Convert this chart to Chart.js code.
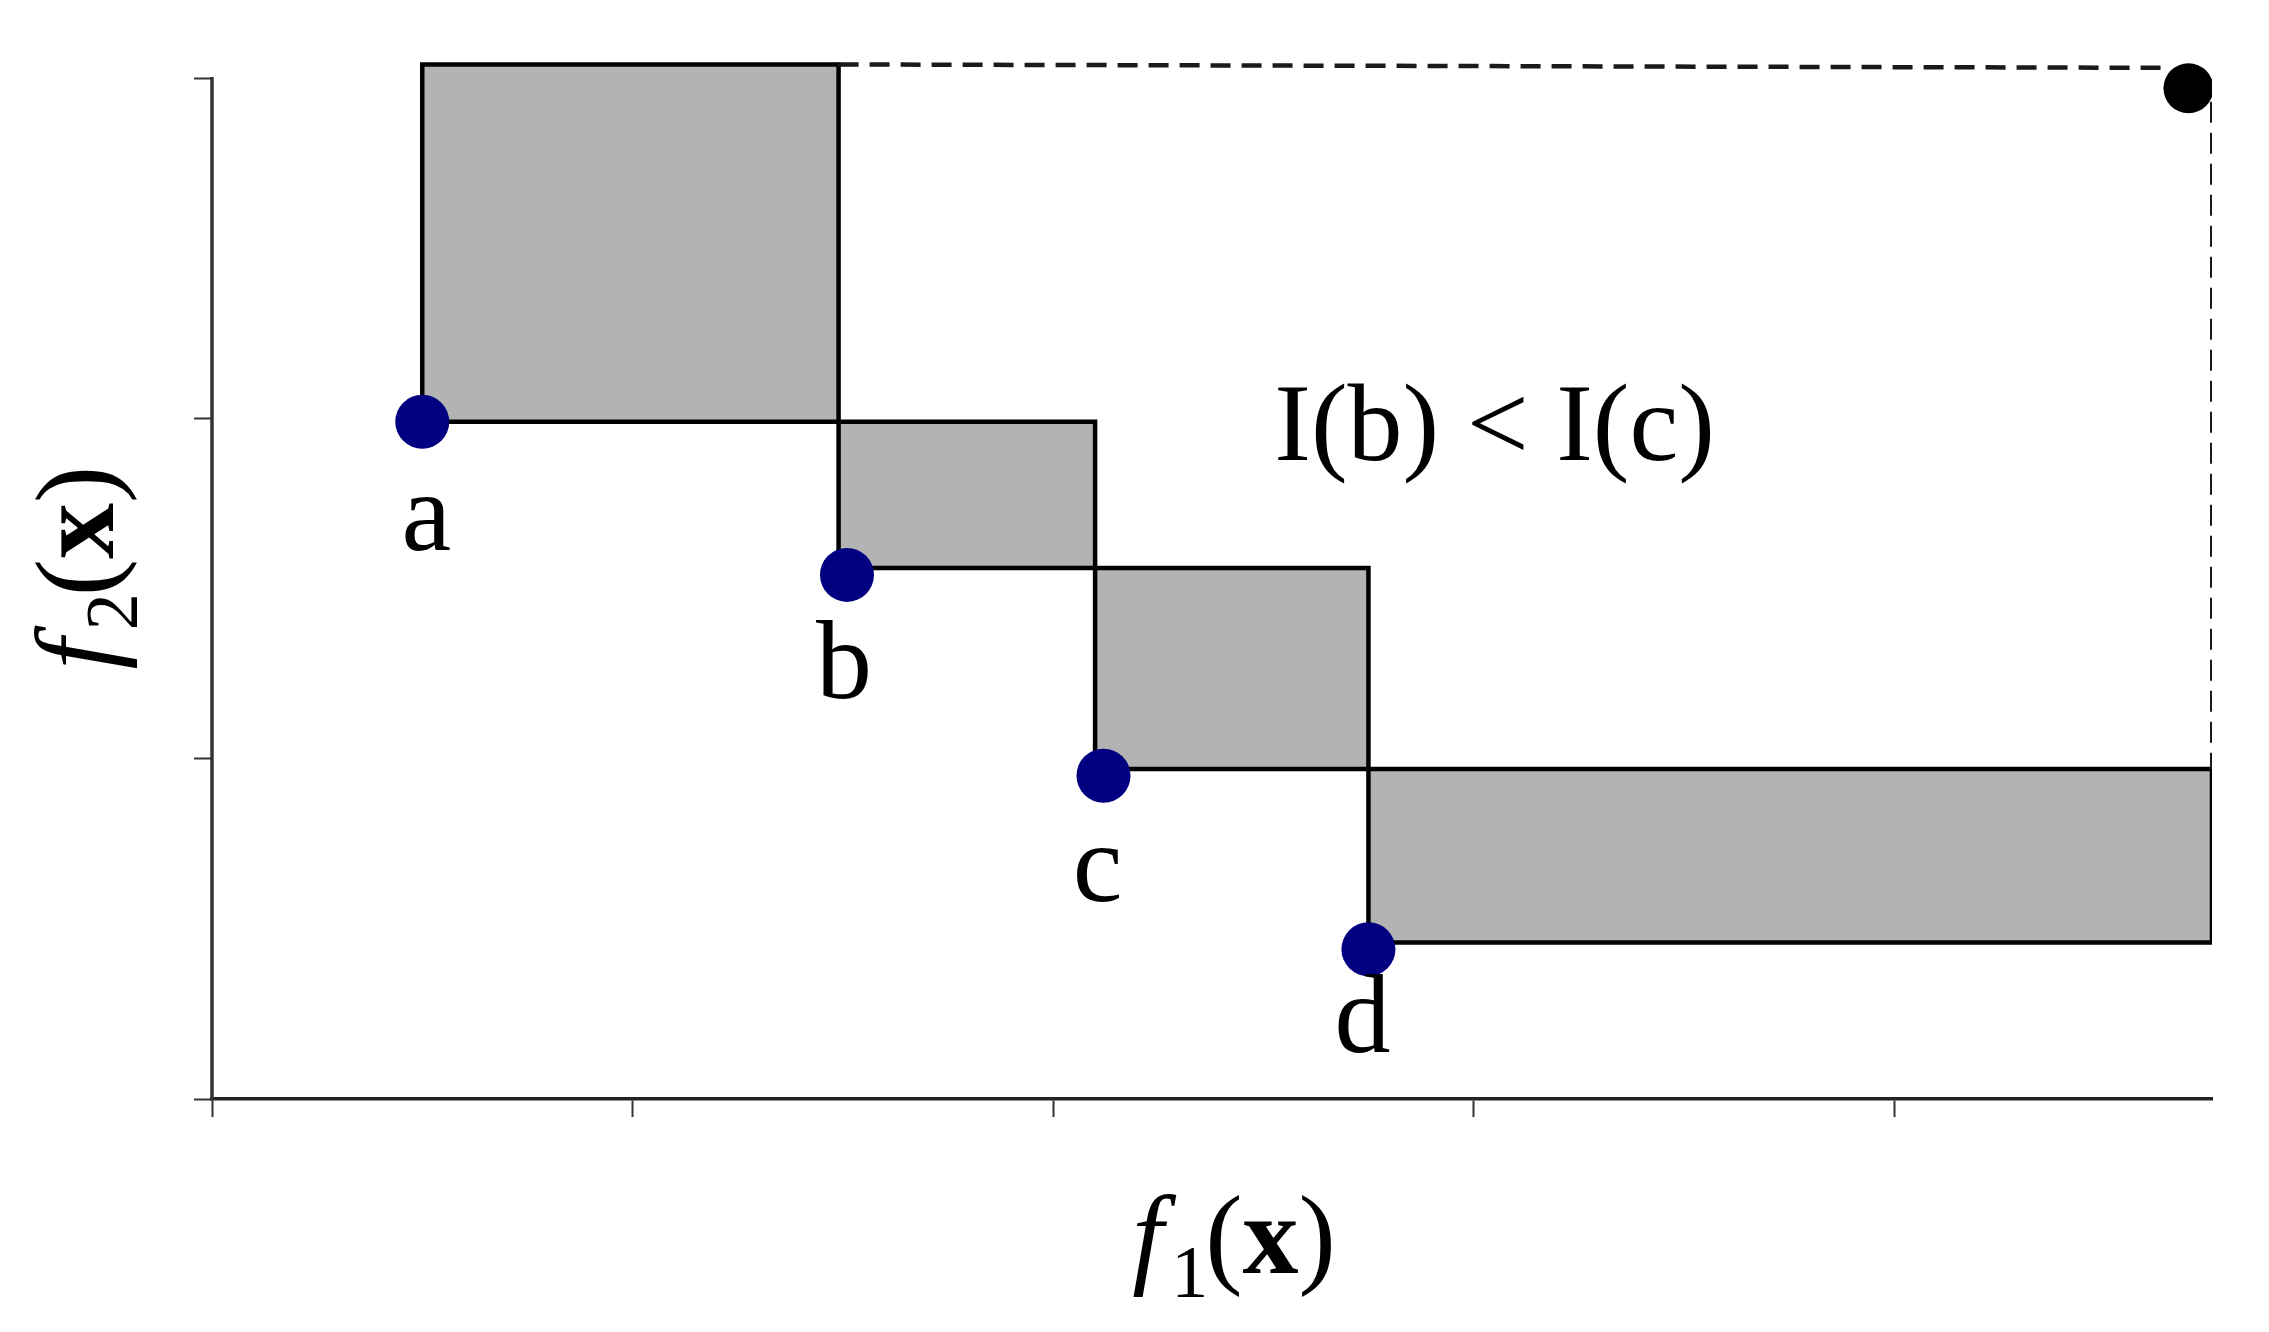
<!DOCTYPE html>
<html>
<head>
<meta charset="utf-8">
<script src="https://cdn.jsdelivr.net/npm/chart.js@4.4.0/dist/chart.umd.min.js"></script>
<style>
  html, body { margin: 0; padding: 0; background: #ffffff; }
  #wrap { width: 2269px; height: 1332px; }
</style>
</head>
<body>
<div id="wrap"><canvas id="c" width="2269" height="1332"></canvas></div>
<script>
// ---------------- data ----------------
const pointNames = ['a', 'b', 'c', 'd'];
const pointF1 = [0.50, 1.51, 2.12, 2.75];
const pointF2 = [1.99, 1.54, 0.95, 0.44];

const refF1 = [4.70];
const refF2 = [2.97];

// exclusive-contribution boxes of a, b, c, d
const boxLeft   = [0.50, 1.49, 2.10, 2.75];
const boxRight  = [1.49, 2.10, 2.75, 4.756];
const boxBottom = [1.99, 1.56, 0.97, 0.46];
const boxTop    = [3.04, 1.99, 1.56, 0.97];

// dashed bound towards the reference point
const boundTopF1  = [1.49, 4.65];
const boundTopF2  = [3.04, 3.03];
const boundSideF1 = [4.756, 4.756];
const boundSideF2 = [2.93, 0.97];

const f1Ticks = [0, 1, 2, 3, 4];
const f2Ticks = [0, 1, 2, 3];
const f1Max = 4.756;
const f2Max = 3.15;

const noteText = 'I(b) < I(c)';
const noteF1 = [3.05];
const noteF2 = [1.877];

// ---------------- chart ----------------
const SERIF = '"Liberation Serif", "Times New Roman", Times, serif';
// label placement relative to its point (style, in pixels)
const LABEL_OFFSET = { a: [4, 128], b: [-3, 123], c: [-6, 125], d: [-6, 103] };

function xy(xs, ys) { return xs.map((v, i) => ({ x: v, y: ys[i] })); }

const boxDatasets = boxLeft.map((l, i) => ({
  label: 'box ' + pointNames[i],
  data: xy([l, l, boxRight[i], boxRight[i], l],
           [boxBottom[i], boxTop[i], boxTop[i], boxBottom[i], boxBottom[i]]),
  showLine: true,
  fill: 'shape',
  backgroundColor: '#b3b3b3',
  borderColor: '#000000',
  borderWidth: 4.5,
  borderJoinStyle: 'miter',
  pointRadius: 0,
  tension: 0,
  order: 3
}));

const datasets = [
  {
    label: 'points',
    data: xy(pointF1, pointF2),
    showLine: false,
    pointRadius: 27,
    pointHoverRadius: 27,
    pointBackgroundColor: '#000080',
    pointBorderWidth: 0,
    order: 0
  },
  {
    label: 'reference',
    data: xy(refF1, refF2),
    showLine: false,
    pointRadius: 25,
    pointHoverRadius: 25,
    pointBackgroundColor: '#000000',
    pointBorderWidth: 0,
    order: 0
  },
  {
    label: 'bound top',
    data: xy(boundTopF1, boundTopF2),
    showLine: true,
    fill: false,
    borderColor: '#1a1a1a',
    borderWidth: 4.5,
    borderDash: [20, 11],
    pointRadius: 0,
    order: 1
  },
  {
    label: 'bound side',
    data: xy(boundSideF1, boundSideF2),
    showLine: true,
    fill: false,
    borderColor: '#1a1a1a',
    borderWidth: 4,
    borderDash: [21, 10],
    pointRadius: 0,
    order: 1
  },
  ...boxDatasets
];

function richWidth(ctx, parts) {
  let w = 0;
  for (const p of parts) { ctx.font = p.font; w += ctx.measureText(p.t).width + (p.gap || 0); }
  return w;
}
function drawRich(ctx, parts, cx, baseY) {
  const w = richWidth(ctx, parts);
  let x = cx - w / 2;
  ctx.textAlign = 'left';
  ctx.textBaseline = 'alphabetic';
  for (const p of parts) {
    ctx.font = p.font;
    ctx.fillText(p.t, x, baseY + (p.dy || 0));
    x += ctx.measureText(p.t).width + (p.gap || 0);
  }
}
function titleParts(sub) {
  return [
    { t: 'f', font: 'italic 112px ' + SERIF, gap: 8 },
    { t: sub, font: '74px ' + SERIF, dy: 24, gap: -3 },
    { t: '(', font: '112px ' + SERIF },
    { t: 'x', font: 'bold 112px ' + SERIF },
    { t: ')', font: '112px ' + SERIF }
  ];
}

const overlay = {
  id: 'overlay',
  afterDraw(chart) {
    const ctx = chart.ctx;
    const xs = chart.scales.x, ys = chart.scales.y;
    const area = chart.chartArea;
    ctx.save();

    // vertical axis line from the lowest to the highest tick
    ctx.strokeStyle = '#333333';
    ctx.lineWidth = 3.5;
    ctx.beginPath();
    ctx.moveTo(area.left, ys.getPixelForValue(f2Ticks[0]) + 1.5);
    ctx.lineTo(area.left, ys.getPixelForValue(f2Ticks[f2Ticks.length - 1]) - 1);
    ctx.stroke();

    ctx.fillStyle = '#000000';
    // point labels
    const meta = chart.getDatasetMeta(0);
    ctx.font = '112px ' + SERIF;
    ctx.textAlign = 'center';
    ctx.textBaseline = 'alphabetic';
    meta.data.forEach((el, i) => {
      const off = LABEL_OFFSET[pointNames[i]] || [0, 120];
      ctx.fillText(pointNames[i], el.x + off[0], el.y + off[1]);
    });

    // note
    ctx.font = '110px ' + SERIF;
    ctx.fillText(noteText, xs.getPixelForValue(noteF1[0]), ys.getPixelForValue(noteF2[0]));

    // axis titles
    drawRich(ctx, titleParts('1'), (area.left + area.right) / 2 + 22, area.bottom + 174);
    ctx.translate(area.left - 99, (ys.getPixelForValue(0) + ys.getPixelForValue(3)) / 2 - 21);
    ctx.rotate(-Math.PI / 2);
    drawRich(ctx, titleParts('2'), 0, 0);
    ctx.restore();
  }
};

new Chart(document.getElementById('c'), {
  type: 'line',
  data: { datasets },
  plugins: [overlay],
  options: {
    responsive: false,
    animation: false,
    events: [],
    layout: { padding: { left: 0, right: 57, top: 22, bottom: 0 } },
    plugins: {
      legend: { display: false },
      tooltip: { enabled: false },
      title: { display: false }
    },
    scales: {
      x: {
        type: 'linear',
        min: 0,
        max: f1Max,
        afterBuildTicks: s => { s.ticks = f1Ticks.map(v => ({ value: v })); },
        afterFit: s => { s.height = 233; },
        ticks: { display: false },
        grid: { display: true, drawOnChartArea: false, drawTicks: true, tickLength: 18, tickWidth: 2, tickColor: '#333333' },
        border: { display: true, color: '#222222', width: 3.5 }
      },
      y: {
        type: 'linear',
        min: 0,
        max: f2Max,
        afterBuildTicks: s => { s.ticks = f2Ticks.map(v => ({ value: v })); },
        afterFit: s => { s.width = 212; },
        ticks: { display: false },
        grid: { display: true, drawOnChartArea: false, drawTicks: true, tickLength: 18, tickWidth: 2, tickColor: '#333333' },
        border: { display: false }
      }
    }
  }
});
</script>
</body>
</html>
